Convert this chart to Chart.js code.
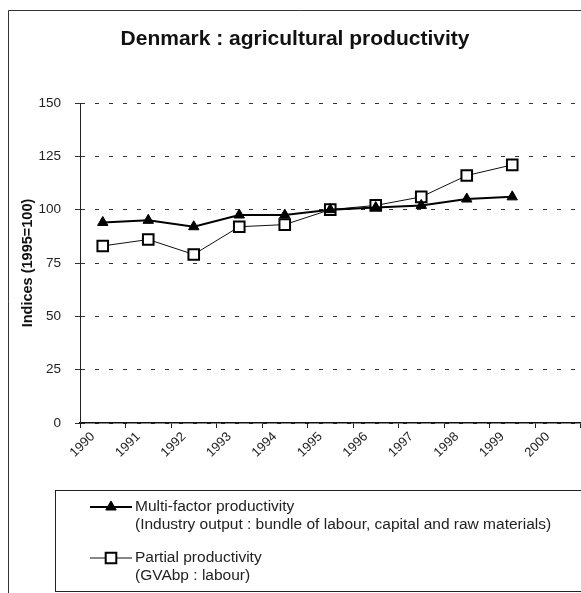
<!DOCTYPE html>
<html>
<head>
<meta charset="utf-8">
<script src="https://cdn.jsdelivr.net/npm/chart.js@4.4.1/dist/chart.umd.min.js"></script>
<style>
html, body { margin: 0; padding: 0; background: #fff; overflow: hidden; }
#wrap { position: relative; width: 590px; height: 593px; }
</style>
</head>
<body>
<div id="wrap"><canvas id="chart1"></canvas></div>
<script>
var titleText = 'Denmark : agricultural productivity';
var years = ['1990', '1991', '1992', '1993', '1994', '1995', '1996', '1997', '1998', '1999', '2000'];
var multiFactor = [94, 95, 92, 97.5, 97.5, 100, 101, 102, 105, 106, null];
var partial = [83, 86, 79, 92, 93, 100, 102, 106, 116, 121, null];
var seriesNames = ['Multi-factor productivity', 'Partial productivity'];
var seriesNotes = ['(Industry output : bundle of labour, capital and raw materials)', '(GVAbp : labour)'];
var yMin = 0, yMax = 150, yStep = 25;

var FONT = '"Liberation Sans", Arial, sans-serif';

// frame, title and the boxed legend are drawn by hand
var extras = {
    id: 'extras',
    beforeDraw: function (chart) {
        var c = chart.ctx;
        c.save();
        c.fillStyle = '#fff';
        c.fillRect(0, 0, chart.width, chart.height);
        c.restore();
    },
    afterDraw: function (chart) {
        var c = chart.ctx;
        c.save();
        c.strokeStyle = '#333';
        c.lineWidth = 1;
        c.beginPath();
        c.moveTo(8.5, 593);
        c.lineTo(8.5, 10.5);
        c.lineTo(chart.width, 10.5);
        c.stroke();

        c.fillStyle = '#111';
        c.font = 'bold 21px ' + FONT;
        c.textAlign = 'center';
        c.textBaseline = 'middle';
        c.fillText(titleText, 295, 39);

        c.strokeStyle = '#222';
        c.strokeRect(55.5, 490.5, 600, 101);

        var rows = [507, 558];
        chart.data.datasets.forEach(function (ds, i) {
            var y = rows[i];
            c.strokeStyle = ds.borderColor;
            c.lineWidth = ds.borderWidth;
            c.beginPath();
            c.moveTo(90, y);
            c.lineTo(132, y);
            c.stroke();
            c.fillStyle = ds.pointBackgroundColor;
            c.strokeStyle = ds.pointBorderColor;
            c.lineWidth = ds.pointBorderWidth;
            Chart.helpers.drawPoint(c, {
                pointStyle: ds.pointStyle,
                radius: ds.pointRadius,
                rotation: 0,
                borderWidth: ds.pointBorderWidth
            }, 111, y);
            c.fillStyle = '#222';
            c.font = '15.5px ' + FONT;
            c.textAlign = 'left';
            c.textBaseline = 'middle';
            c.fillText(seriesNames[i], 135, y);
            c.fillText(seriesNotes[i], 135, y + 18);
        });
        c.restore();
    }
};

var ctx = document.getElementById('chart1').getContext('2d');
var myChart = new Chart(ctx, {
    type: 'line',
    data: {
        labels: years,
        datasets: [{
            label: seriesNames[0],
            data: multiFactor,
            borderColor: '#000',
            borderWidth: 2,
            pointStyle: 'triangle',
            pointRadius: 6,
            pointBackgroundColor: '#000',
            pointBorderColor: '#000',
            pointBorderWidth: 1,
            tension: 0
        }, {
            label: seriesNames[1],
            data: partial,
            borderColor: '#111',
            borderWidth: 1,
            pointStyle: 'rect',
            pointRadius: 7.5,
            pointBackgroundColor: '#fff',
            pointBorderColor: '#000',
            pointBorderWidth: 2,
            tension: 0
        }]
    },
    options: {
        responsive: true,
        maintainAspectRatio: false,
        animation: false,
        layout: { padding: { top: 103, left: 0, right: 2, bottom: 120 } },
        plugins: {
            legend: { display: false },
            title: { display: false },
            tooltip: { enabled: false }
        },
        scales: {
            x: {
                offset: true,
                afterFit: function (scale) { scale.height = 50; },
                grid: { drawOnChartArea: false, drawTicks: true, tickLength: 5, color: '#222', offset: true },
                border: { color: '#111', width: 1.5 },
                ticks: {
                    autoSkip: false, minRotation: 45, maxRotation: 45, padding: 1, labelOffset: -10,
                    color: '#222', font: { family: FONT, size: 13 }
                }
            },
            y: {
                min: yMin,
                max: yMax,
                afterFit: function (scale) { scale.width = 80; },
                grid: { color: '#333', lineWidth: 1, tickLength: 5 },
                border: { color: '#222', width: 1, dash: [4, 10] },
                ticks: { stepSize: yStep, padding: 14, color: '#222', font: { family: FONT, size: 13.5 } },
                title: {
                    display: true, text: 'Indices (1995=100)', color: '#111',
                    font: { family: FONT, size: 14.5, weight: 'bold' },
                    padding: { top: 19, bottom: 0 }
                }
            }
        }
    },
    plugins: [extras]
});
</script>
</body>
</html>
